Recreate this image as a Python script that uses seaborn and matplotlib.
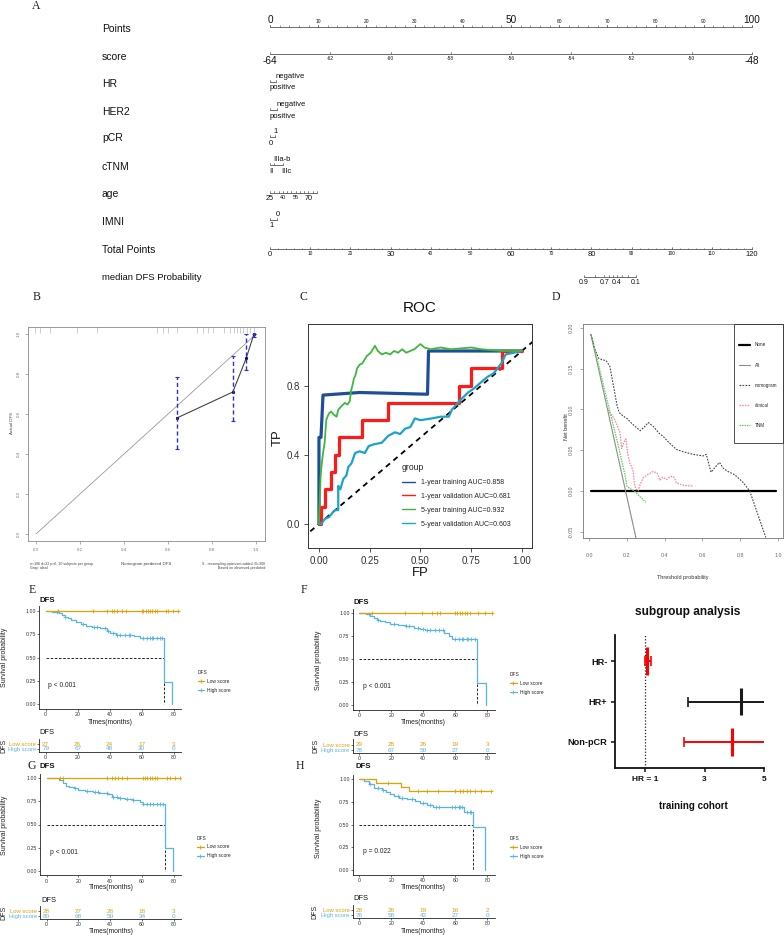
import numpy as np
import pandas as pd
import matplotlib
matplotlib.use("Agg")
import matplotlib.pyplot as plt
from matplotlib.lines import Line2D
from matplotlib.patches import Rectangle
import seaborn as sns

sns.set_theme(style="white")
plt.rcParams['font.family'] = ['Liberation Sans', 'DejaVu Sans']
plt.rcParams['axes.unicode_minus'] = False

# ======================= DATA =======================
# A: nomogram
points_ticks = list(range(0, 101, 10))
points_big = [0, 50, 100]
score_ticks = list(range(-64, -47, 2))
score_big = [-64, -48]
hr_levels = ["positive", "negative"]; hr_pts = [0.0, 1.25]
her2_levels = ["positive", "negative"]; her2_pts = [0.0, 1.55]
pcr_levels = ["0", "1"]; pcr_pts = [0.0, 1.0]
ctnm_levels = ["II", "IIIa-b", "IIIc"]; ctnm_pts = [0.0, 0.8, 2.6]
age_ticks = list(range(25, 81, 5)); age_labeled = [25, 40, 55, 70]; age_big = [25, 70]
age_max_pts = 9.75
imni_levels = ["1", "0"]; imni_pts = [0.0, 1.45]
total_ticks = list(range(0, 121, 10)); total_big = [0, 30, 60, 80, 120]
dfs_prob = [0.9, 0.8, 0.7, 0.6, 0.5, 0.4, 0.3, 0.2, 0.1]
dfs_total = [78.2, 80.8, 83.2, 84.4, 85.4, 86.4, 87.6, 89.1, 91.1]
dfs_labeled = [0.9, 0.7, 0.4, 0.1]

# B: calibration
calib_pred = [0.64, 0.894, 0.955, 0.99]
calib_obs = [0.58, 0.71, 0.88, 1.0]
calib_lo = [0.427, 0.565, 0.82, 0.985]
calib_hi = [0.785, 0.89, 1.0, 1.0]
calib_rug = [-0.005, 0.018, 0.064, 0.185, 0.276, 0.548, 0.579, 0.6, 0.64, 0.73, 0.76, 0.78,
             0.806, 0.852, 0.882, 0.897, 0.912, 0.927, 0.942, 0.958, 0.973, 0.988]

# C: ROC
roc_groups = ["1-year training AUC=0.858", "1-year validation AUC=0.681",
              "5-year training AUC=0.932", "5-year validation AUC=0.603"]
roc_colors = ["#1F4E99", "#FF1A1A", "#3DB83D", "#1BA3C9"]
roc_1y_train_fpr = [0, 0.0, 0.01, 0.02, 0.2, 0.535, 0.54, 0.85, 1.0]
roc_1y_train_tpr = [0, 0.5, 0.5, 0.745, 0.76, 0.75, 1.0, 1.0, 1.0]
roc_1y_val_fpr = [0, 0.01, 0.01, 0.03, 0.03, 0.06, 0.06, 0.08, 0.08, 0.1, 0.1, 0.21, 0.21, 0.34, 0.34,
                  0.69, 0.69, 0.75, 0.75, 0.9, 0.9, 1.0]
roc_1y_val_tpr = [0, 0.0, 0.1, 0.1, 0.2, 0.2, 0.3, 0.3, 0.4, 0.4, 0.5, 0.5, 0.6, 0.6, 0.7,
                  0.7, 0.8, 0.8, 0.9, 0.9, 1.0, 1.0]
roc_5y_train_fpr = [0, 0.003, 0.008, 0.012, 0.02, 0.028, 0.036, 0.042, 0.05, 0.06, 0.075, 0.087, 0.095,
                    0.11, 0.128, 0.14, 0.152, 0.158, 0.165, 0.172, 0.18, 0.188, 0.2, 0.215, 0.235, 0.255,
                    0.276, 0.29, 0.31, 0.33, 0.35, 0.37, 0.39, 0.41, 0.43, 0.45, 0.47, 0.5, 0.52, 0.55,
                    0.6, 0.65, 0.7, 0.75, 0.8, 0.85, 0.9, 1.0]
roc_5y_train_tpr = [0, 0.12, 0.27, 0.33, 0.41, 0.47, 0.6, 0.62, 0.64, 0.65, 0.63, 0.62, 0.66,
                    0.68, 0.70, 0.69, 0.71, 0.77, 0.8, 0.84, 0.86, 0.9, 0.92, 0.93, 0.97, 0.99,
                    1.03, 1.0, 0.98, 0.99, 0.98, 1.0, 0.99, 1.01, 0.99, 1.0, 1.01, 1.04, 1.02, 1.01,
                    1.02, 1.01, 1.015, 1.02, 1.01, 1.005, 1.0, 1.0]
roc_5y_val_fpr = [0, 0.01, 0.03, 0.05, 0.07, 0.08, 0.095, 0.095, 0.105, 0.12, 0.135, 0.145, 0.16, 0.178,
                  0.2, 0.226, 0.245, 0.27, 0.31, 0.342, 0.375, 0.4, 0.424, 0.45, 0.473, 0.5, 0.555, 0.6,
                  0.64, 0.655, 0.67, 0.7, 0.735, 0.76, 0.78, 0.8, 0.83, 0.86, 0.88, 0.9, 0.92, 1.0]
roc_5y_val_tpr = [0, 0.0, 0.03, 0.04, 0.07, 0.08, 0.08, 0.22, 0.2, 0.26, 0.28, 0.33, 0.35, 0.41,
                  0.42, 0.41, 0.45, 0.46, 0.47, 0.51, 0.53, 0.52, 0.55, 0.56, 0.61, 0.6, 0.61, 0.62,
                  0.62, 0.66, 0.68, 0.72, 0.76, 0.78, 0.8, 0.82, 0.85, 0.87, 0.9, 0.93, 0.98, 1.0]

# D: decision curve
dca_none_thr = [0.01, 0.99]; dca_none_nb = [0.0, 0.0]
dca_all_thr = [0.01, 0.26]; dca_all_nb = [0.192, -0.07]
dca_nomo_thr = [0.01, 0.03, 0.05, 0.07, 0.09, 0.11, 0.13, 0.148, 0.16, 0.18, 0.2, 0.23, 0.27, 0.29, 0.313,
                0.34, 0.37, 0.392, 0.42, 0.462, 0.5, 0.55, 0.603, 0.62, 0.645, 0.67, 0.69, 0.71, 0.734,
                0.77, 0.813, 0.85, 0.88, 0.92, 0.935]
dca_nomo_nb = [0.192, 0.175, 0.163, 0.161, 0.16, 0.153, 0.128, 0.105, 0.096, 0.092, 0.089, 0.082, 0.074,
               0.078, 0.084, 0.079, 0.071, 0.067, 0.06, 0.051, 0.048, 0.045, 0.043, 0.045, 0.023, 0.03,
               0.035, 0.028, 0.024, 0.02, 0.011, 0.0, -0.02, -0.047, -0.057]
dca_clin_thr = [0.1, 0.12, 0.137, 0.155, 0.165, 0.172, 0.185, 0.195, 0.205, 0.216, 0.225, 0.233, 0.242,
                0.25, 0.26, 0.27, 0.286, 0.31, 0.339, 0.36, 0.375, 0.39, 0.41, 0.43, 0.45, 0.462, 0.5, 0.55]
dca_clin_nb = [0.1, 0.093, 0.087, 0.077, 0.07, 0.052, 0.06, 0.064, 0.045, 0.034, 0.03, 0.024, 0.006,
               0.002, 0.0, 0.008, 0.016, 0.02, 0.024, 0.022, 0.013, 0.017, 0.014, 0.018, 0.017, 0.01,
               0.007, 0.006]
dca_tnm_thr = [0.01, 0.05, 0.1, 0.15, 0.17, 0.19, 0.2, 0.215, 0.24, 0.27, 0.3]
dca_tnm_nb = [0.192, 0.155, 0.107, 0.06, 0.04, 0.02, 0.006, 0.003, 0.0, -0.007, -0.014]
dca_labels = ["None", "All", "nomogram", "clinical", "TNM"]

# E-H: Kaplan-Meier
E_low_t = [0, 83]; E_low_s = [1.0, 1.0]
E_low_c = [7.9, 29.3, 38.1, 41.2, 42.7, 44.3, 47.5, 50.2, 60.0, 61.0, 62.5, 63.7, 65.2, 66.6, 68.3,
           69.8, 75.0, 76.6, 79.4, 82.9]
E_high_t = [0, 4, 8, 10, 12, 14, 16, 19, 22, 25, 29, 34, 38, 40, 44, 55, 59, 74, 79]
E_high_s = [1.0, 0.99, 0.98, 0.96, 0.94, 0.92, 0.90, 0.88, 0.86, 0.84, 0.83, 0.815, 0.79, 0.765,
            0.745, 0.73, 0.71, 0.235, 0.0]
E_high_c = [6.9, 12.2, 23.5, 30.2, 31.9, 37.1, 39.2, 42.3, 44.3, 46.4, 49.6, 51.8, 52.7, 61.0, 63.1,
            65.2, 66.2, 67.3, 69.4, 71.4, 72.5]
E_low_risk = [27, 26, 24, 17, 3]; E_high_risk = [79, 67, 48, 30, 0]; E_p = "p < 0.001"

F_low_t = [0, 83]; F_low_s = [1.0, 1.0]
F_low_c = [8, 28.5, 38.9, 45.2, 48.3, 50.4, 59.8, 60.8, 62.9, 64, 66, 67, 69.2, 74.4, 78.5, 82.7]
F_high_t = [0, 4, 7, 9, 11, 13, 16, 19, 24, 29, 34, 38, 41, 53, 56, 58, 73.8, 79.2]
F_high_s = [1.0, 0.99, 0.97, 0.95, 0.93, 0.92, 0.90, 0.885, 0.87, 0.86, 0.845, 0.83, 0.815, 0.79,
            0.75, 0.72, 0.236, 0.0]
F_high_c = [6, 12, 22, 29, 31, 37, 40, 42, 44, 47, 50, 52, 60, 62, 64, 65, 67, 68, 70, 72]
F_low_risk = [29, 28, 26, 19, 3]; F_high_risk = [78, 67, 50, 27, 0]; F_p = "p < 0.001"

G_low_t = [0, 84]; G_low_s = [1.0, 1.0]
G_low_c = [8.3, 10.5, 37.7, 40.8, 43.0, 45.0, 47.1, 50.3, 60.3, 61.8, 63.3, 65.0, 66.4, 68.1, 69.6,
           75.5, 77.5, 80.7, 83.8]
G_high_t = [0, 8, 10, 12, 14, 17, 20, 24, 29, 33, 38, 41, 45, 49, 54, 59, 60.5, 74.4, 79.3]
G_high_s = [1.0, 0.98, 0.95, 0.92, 0.91, 0.89, 0.875, 0.865, 0.85, 0.84, 0.825, 0.80, 0.79, 0.775,
            0.76, 0.745, 0.72, 0.245, 0.0]
G_high_c = [17.8, 25.1, 30.4, 32.5, 37.7, 41.9, 44.0, 46.1, 50.3, 54.5, 60.8, 62.9, 65.0, 67.1, 69.2,
            71.3, 73.4]
G_low_risk = [28, 27, 26, 18, 3]; G_high_risk = [80, 68, 50, 34, 0]; G_p = "p < 0.001"

H_low_t = [0, 10.5, 26, 31, 83]; H_low_s = [1.0, 0.96, 0.92, 0.875, 0.875]
H_low_c = [18, 37, 42, 49, 60, 63, 65, 67, 69, 72, 76, 82]
H_high_t = [0, 3, 6, 9, 14, 17, 19, 22, 25, 30, 35, 38, 42, 46, 65.5, 71.3, 78.6]
H_high_s = [1.0, 0.98, 0.95, 0.905, 0.885, 0.865, 0.84, 0.82, 0.795, 0.78, 0.76, 0.74, 0.715, 0.70,
            0.64, 0.472, 0.0]
H_high_c = [7, 12, 15, 24, 27, 33, 40, 44, 48, 50, 58, 60, 62, 63, 64, 67, 69, 70]
H_low_risk = [28, 26, 19, 16, 2]; H_high_risk = [76, 58, 42, 27, 0]; H_p = "p = 0.022"

risk_times = [0, 20, 40, 60, 80]
km_groups = ["Low score", "High score"]
km_colors = ["#E69F00", "#56B4E9"]

# Subgroup forest
sub_labels = ["HR-", "HR+", "Non-pCR"]
sub_hr = [1.08, 4.21, 3.92]
sub_lo = [1.0, 2.43, 2.31]
sub_hi = [1.19, 6.2, 6.0]
sub_colors = ["#FF0000", "#1A1A1A", "#FF0000"]

# ======================= FIGURE =======================
W, H = 784, 936
fig = plt.figure(figsize=(W / 100, H / 100), dpi=100)
fig.patch.set_facecolor("white")


def add_ax(x0, y0, x1, y1):
    return fig.add_axes([x0 / W, 1 - y1 / H, (x1 - x0) / W, (y1 - y0) / H])


def ftext(x, y, s, **kw):
    kw.setdefault("ha", "center"); kw.setdefault("va", "center")
    fig.text(x / W, 1 - y / H, s, **kw)


SERIF = ['Liberation Serif', 'DejaVu Serif']
for lab, (x, y) in zip("ABCDEFGH", [(36, 6), (37, 297), (303, 297), (556, 297),
                                    (32, 590), (304, 590), (32, 766), (300, 766)]):
    ftext(x, y, lab, fontsize=8.5, family=SERIF, color="#222")

# ---------------- A: nomogram ----------------
axA = add_ax(0, 0, W, 292)
PX, X0 = 4.82, 270
axA.set_xlim(-X0 / PX, (W - X0) / PX)
axA.set_ylim(292, 0)
axA.axis("off")
LC = "#555555"

row_names = [("Points", 29), ("score", 57), ("HR", 84), ("HER2", 112), ("pCR", 138), ("cTNM", 167),
             ("age", 194), ("IMNI", 222), ("Total Points", 250)]
for name, y in row_names:
    ftext(102, y, name, ha="left", fontsize=7.5, color="#111")
ftext(102, 278, "median DFS Probability", ha="left", fontsize=6.8, color="#111")


def cont_row(y, pts, labels, bigs, fs_big, fs_small, side, minor=None, tick_len=2.0):
    axA.plot([min(pts), max(pts)], [y, y], color=LC, lw=0.6)
    for p in pts:
        axA.plot([p, p], [y, y - tick_len], color=LC, lw=0.5)
    if minor is not None:
        for p in minor:
            axA.plot([p, p], [y, y - 1.2], color=LC, lw=0.4)
    for p, lab, big in zip(pts, labels, bigs):
        if lab is None:
            continue
        if side == "above":
            axA.text(p, y - 3.2, lab, ha="center", va="baseline", fontsize=fs_big if big else fs_small,
                     color="#111")
        else:
            axA.text(p, y + 2.0, lab, ha="center", va="top", fontsize=fs_big if big else fs_small,
                     color="#111")


def cat_row(y, levels, pts):
    order = np.argsort(pts)
    axA.plot([min(pts), max(pts)], [y, y], color=LC, lw=0.6)
    for k, i in enumerate(order):
        p = pts[i]
        axA.plot([p, p], [y, y - 2], color=LC, lw=0.5)
        if k % 2 == 1:
            axA.text(p - 0.2, y - 3.6, levels[i], ha="left", va="baseline", fontsize=5.5, color="#111")
        else:
            axA.text(p - 0.2, y + 2.8, levels[i], ha="left", va="top", fontsize=5.5, color="#111")


cont_row(26.5, points_ticks, [str(v) for v in points_ticks], [v in points_big for v in points_ticks],
         7.2, 3.5, "above", minor=list(range(0, 101, 2)))
score_pts = [(s - score_ticks[0]) / (score_ticks[-1] - score_ticks[0]) * 100 for s in score_ticks]
cont_row(54.3, score_pts, [str(v) for v in score_ticks], [v in score_big for v in score_ticks],
         7.2, 3.5, "below")
cat_row(81.5, hr_levels, hr_pts)
cat_row(109.7, her2_levels, her2_pts)
cat_row(136.8, pcr_levels, pcr_pts)
cat_row(165.0, ctnm_levels, ctnm_pts)
age_pts = [(a - age_ticks[0]) / (age_ticks[-1] - age_ticks[0]) * age_max_pts for a in age_ticks]
cont_row(192.7, age_pts, [str(a) if a in age_labeled else None for a in age_ticks],
         [a in age_big for a in age_ticks], 5.2, 3.9, "below", tick_len=1.6)
cat_row(219.5, imni_levels, imni_pts)
tot_pts = [t / 120 * 100 for t in total_ticks]
cont_row(249.0, tot_pts, [str(t) for t in total_ticks], [t in total_big for t in total_ticks],
         5.4, 3.4, "below", minor=[t / 120 * 100 for t in range(0, 121, 2)])
dfs_pts = [t / 120 * 100 for t in dfs_total]
cont_row(276.7, dfs_pts, [str(p) if p in dfs_labeled else None for p in dfs_prob],
         [True] * len(dfs_prob), 5.0, 5.0, "below", tick_len=1.6)

# ---------------- B: calibration ----------------
axB = add_ax(28, 327, 265, 541)
axB.set_xlim(-0.036, 1.04); axB.set_ylim(-0.035, 1.035)
sns.lineplot(x=[0, 1], y=[0, 1], color="#9A9A9A", lw=0.6, ax=axB, estimator=None, sort=False)
sns.lineplot(x=calib_pred, y=calib_obs, color="#444444", lw=0.8, ax=axB, estimator=None, sort=False)
axB.plot(calib_pred, calib_obs, "o", ms=1.3, color="#111")
eb = axB.errorbar(calib_pred, calib_obs,
                  yerr=[np.array(calib_obs) - np.array(calib_lo), np.array(calib_hi) - np.array(calib_obs)],
                  fmt="none", ecolor="#2B2BF0", elinewidth=1.0, capsize=1.3, capthick=0.8)
eb[2][0].set_linestyle((0, (3, 2)))
axB.vlines(calib_rug, 0.972, 1.0, transform=axB.get_xaxis_transform(), color="#BBBBBB", lw=0.5)
ticksB = [0, 0.2, 0.4, 0.6, 0.8, 1.0]
axB.set_xticks(ticksB); axB.set_xticklabels([f"{v:.1f}" for v in ticksB], fontsize=3.2, color="#555")
axB.set_yticks(ticksB); axB.set_yticklabels([f"{v:.1f}" for v in ticksB], fontsize=3.2, color="#555",
                                             rotation=90, va="center")
axB.tick_params(direction="out", length=2, width=0.4, colors="#777", pad=3, bottom=True, left=True)
for s in axB.spines.values():
    s.set_color("#8A8A8A"); s.set_linewidth(0.6)
ftext(12, 423, "Actual DFS", rotation=90, fontsize=3.2, color="#444")
ftext(146, 564, "Nomogram predicted DFS", fontsize=3.2, color="#444")
ftext(30, 566, "n=106 d=22 p=6, 30 subjects per group\nGray: ideal", ha="left", fontsize=2.6,
      color="#444", linespacing=1.1)
ftext(265, 566, "X - resampling optimism added, B=300\nBased on observed-predicted", ha="right",
      fontsize=2.6, color="#444", linespacing=1.1, multialignment="right")

# ---------------- C: ROC ----------------
axC = add_ax(308, 324, 532, 548)
axC.set_xlim(-0.054, 1.05); axC.set_ylim(-0.139, 1.156)
sns.lineplot(x=[-0.08, 1.06], y=[-0.08, 1.06], color="black", lw=1.3, ax=axC, estimator=None,
             sort=False, linestyle=(0, (3, 2.5)))
roc_sets = [(roc_1y_train_fpr, roc_1y_train_tpr, 2.3), (roc_1y_val_fpr, roc_1y_val_tpr, 2.3),
            (roc_5y_val_fpr, roc_5y_val_tpr, 1.6), (roc_5y_train_fpr, roc_5y_train_tpr, 1.3)]
roc_idx = [0, 1, 3, 2]
for (fx, fy, lw), gi in zip(roc_sets, roc_idx):
    df = pd.DataFrame({"FP": fx, "TP": fy})
    sns.lineplot(data=df, x="FP", y="TP", color=roc_colors[gi], lw=lw, ax=axC, estimator=None, sort=False)
axC.set_xlabel(""); axC.set_ylabel("")
axC.set_xticks([0, 0.25, 0.5, 0.75, 1.0])
axC.set_xticklabels(["0.00", "0.25", "0.50", "0.75", "1.00"], fontsize=7, color="#333")
axC.set_yticks([0, 0.4, 0.8]); axC.set_yticklabels(["0.0", "0.4", "0.8"], fontsize=7, color="#333")
axC.tick_params(direction="out", length=3, width=0.6, colors="#333", pad=3, bottom=True, left=True)
for s in axC.spines.values():
    s.set_color("#333"); s.set_linewidth(0.7)
ftext(420, 308, "ROC", fontsize=11, color="#111")
ftext(420, 573, "FP", fontsize=9.4, color="#111")
ftext(278, 438, "TP", rotation=90, fontsize=9.4, color="#111")
handles = [Line2D([], [], color=c, lw=1.0) for c in roc_colors]
legC = axC.legend(handles, roc_groups, title="group", loc="upper left", bbox_to_anchor=(402 / W, 1 - 463 / H),
                  bbox_transform=fig.transFigure, frameon=False, fontsize=5.0, title_fontsize=6.2,
                  handlelength=1.9, handletextpad=0.9, labelspacing=1.0, borderpad=0, borderaxespad=0,
                  alignment="left")

# ---------------- D: decision curve ----------------
axD = add_ax(583, 324, 783, 538)
axD.set_xlim(-0.032, 1.026); axD.set_ylim(-0.0577, 0.2049)
dca_sets = [(dca_none_thr, dca_none_nb, "black", 1.6, "-"),
            (dca_all_thr, dca_all_nb, "#8C8C8C", 0.8, "-"),
            (dca_nomo_thr, dca_nomo_nb, "#444444", 0.8, (0, (1.5, 1.2))),
            (dca_clin_thr, dca_clin_nb, "#FF7C9C", 0.9, (0, (1.2, 1.0))),
            (dca_tnm_thr, dca_tnm_nb, "#5FCB5F", 0.9, (0, (1.2, 0.8)))]
for thr, nb, c, lw, ls in dca_sets:
    sns.lineplot(x=thr, y=nb, color=c, lw=lw, linestyle=ls, ax=axD, estimator=None, sort=False)
ticksDx = [0, 0.2, 0.4, 0.6, 0.8, 1.0]
axD.set_xticks(ticksDx); axD.set_xticklabels([f"{v:.1f}" for v in ticksDx], fontsize=3.8, color="#444")
ticksDy = [-0.05, 0.0, 0.05, 0.10, 0.15, 0.20]
axD.set_yticks(ticksDy); axD.set_yticklabels([f"{v:.2f}" for v in ticksDy], fontsize=3.8, color="#444",
                                              rotation=90, va="center")
axD.tick_params(axis="x", direction="out", length=2.5, width=0.4, colors="#666", pad=8, bottom=True)
axD.tick_params(axis="y", direction="out", length=2.5, width=0.4, colors="#666", pad=4, left=True)
for s in axD.spines.values():
    s.set_color("#777"); s.set_linewidth(0.6)
ftext(567, 427, "Net benefit", rotation=90, fontsize=4, color="#333")
ftext(683, 577, "Threshold probability", fontsize=4, color="#333")
hD = [Line2D([], [], color=c, lw=lw, linestyle=ls) for _, _, c, lw, ls in dca_sets]
axD.legend(hD, dca_labels, loc="upper left", bbox_to_anchor=(739 / W, 1 - 342.5 / H),
           bbox_transform=fig.transFigure, frameon=False, fontsize=3.3, handlelength=2.4,
           handletextpad=1.0, labelspacing=3.3, borderpad=0, borderaxespad=0)
fig.patches.append(Rectangle((734 / W, 1 - 443 / H), 49 / W, 119 / H, transform=fig.transFigure,
                             fill=False, lw=0.6, edgecolor="#333"))


# ---------------- E-H: KM curves ----------------
def step_val(t, s, x):
    i = np.searchsorted(t, x, side="right") - 1
    return np.array(s)[np.clip(i, 0, len(s) - 1)]


def km_panel(box, tbox, low_t, low_s, low_c, high_t, high_s, high_c, p, low_risk, high_risk,
             title_xy, ylab_xy, xlab_xy, p_xy, leg_xy, ttitle_xy, tylab_xy, txlab_xy=None):
    ax = add_ax(*box)
    ax.set_xlim(-4, 84.5); ax.set_ylim(-0.05, 1.05)
    t_med = high_t[int(np.argmax(np.array(high_s) <= 0.5))]
    sns.lineplot(x=[0, t_med], y=[0.5, 0.5], color="black", lw=0.6, linestyle=(0, (3, 2)), ax=ax,
                 estimator=None, sort=False)
    sns.lineplot(x=[t_med, t_med], y=[0.5, 0.0], color="black", lw=0.6, linestyle=(0, (3, 2)), ax=ax,
                 estimator=None, sort=False)
    for t, s, cns, col in [(high_t, high_s, high_c, km_colors[1]), (low_t, low_s, low_c, km_colors[0])]:
        sns.lineplot(x=t, y=s, color=col, lw=0.9, drawstyle="steps-post", ax=ax, estimator=None, sort=False)
        ax.plot(cns, step_val(t, s, cns), "+", color=col, ms=3.2, mew=0.6)
    ax.set_xlabel(""); ax.set_ylabel("")
    ax.set_xticks(risk_times); ax.set_xticklabels([str(v) for v in risk_times], fontsize=3.8, color="#333")
    ax.set_yticks([0, 0.25, 0.5, 0.75, 1.0])
    ax.set_yticklabels(["0.00", "0.25", "0.50", "0.75", "1.00"], fontsize=3.8, color="#333")
    ax.tick_params(direction="out", length=1.6, width=0.5, colors="#333", pad=0.8, bottom=True, left=True)
    for side in ["top", "right"]:
        ax.spines[side].set_visible(False)
    for side in ["left", "bottom"]:
        ax.spines[side].set_color("#222"); ax.spines[side].set_linewidth(0.6)
    ftext(*title_xy, "DFS", ha="left", fontsize=5.6, fontweight="bold", color="#111")
    ftext(*ylab_xy, "Survival probability", rotation=90, fontsize=5.0, color="#222")
    ftext(xlab_xy[0], xlab_xy[1] + 1.2, "Times(months)", fontsize=4.9, color="#222")
    ftext(*p_xy, p, ha="left", fontsize=4.8, color="#222")
    hk = [Line2D([], [], color=c, lw=0.9, marker="+", ms=3, mew=0.6) for c in km_colors]
    ax.legend(hk, km_groups, title="DFS", loc="upper left",
              bbox_to_anchor=(leg_xy[0] / W, 1 - leg_xy[1] / H), bbox_transform=fig.transFigure,
              frameon=False, fontsize=3.5, title_fontsize=3.5, handlelength=1.4, handletextpad=0.6,
              labelspacing=0.8, borderpad=0, borderaxespad=0, alignment="left")
    # risk table
    axt = add_ax(*tbox)
    axt.set_xlim(-4, 84.5); axt.set_ylim(-0.6, 2.0)
    for row, (vals, col) in enumerate([(high_risk, km_colors[1]), (low_risk, km_colors[0])]):
        for t, v in zip(risk_times, vals):
            axt.text(t, row, str(v), color=col, ha="center", va="center", fontsize=4.6)
    axt.set_xticks(risk_times); axt.set_xticklabels([str(v) for v in risk_times], fontsize=3.8, color="#333")
    axt.set_yticks([1, 0]); axt.set_yticklabels(km_groups, fontsize=4.2)
    axt.tick_params(direction="out", length=1.5, width=0.5, colors="#333", pad=0.8, bottom=True, left=True)
    for tl, c in zip(axt.get_yticklabels(), km_colors):
        tl.set_color(c)
    for side in ["top", "right"]:
        axt.spines[side].set_visible(False)
    for side in ["left", "bottom"]:
        axt.spines[side].set_color("#222"); axt.spines[side].set_linewidth(0.6)
    ftext(*ttitle_xy, "DFS", ha="left", fontsize=5.4, color="#111")
    ftext(*tylab_xy, "DFS", rotation=90, fontsize=5.0, color="#222")
    if txlab_xy is not None:
        ftext(txlab_xy[0], txlab_xy[1] + 0.8, "Times(months)", fontsize=4.9, color="#222")


km_panel((39.3, 606.4, 180.9, 708.7), (39.3, 739, 180.9, 752),
         E_low_t, E_low_s, E_low_c, E_high_t, E_high_s, E_high_c, E_p, E_low_risk, E_high_risk,
         (39, 600), (5, 657), (110, 721), (48, 685.7), (197.5, 670), (39, 733), (4, 746))
km_panel((352.9, 608.7, 494.5, 709.6), (352.9, 739.3, 494.5, 753.3),
         F_low_t, F_low_s, F_low_c, F_high_t, F_high_s, F_high_c, F_p, F_low_risk, F_high_risk,
         (353, 602), (318, 660), (423, 721.7), (363, 686.7), (510, 672), (353, 734), (316, 746))
km_panel((40.3, 773.7, 181.0, 875.3), (40.3, 906, 181.0, 919.3),
         G_low_t, G_low_s, G_low_c, G_high_t, G_high_s, G_high_c, G_p, G_low_risk, G_high_risk,
         (40, 766), (4.7, 825), (111, 886.7), (50, 852.3), (197, 835.5), (41, 900), (4, 912.7),
         (111, 930.7))
km_panel((352.9, 774.8, 494.5, 874.5), (352.9, 905, 494.5, 918.3),
         H_low_t, H_low_s, H_low_c, H_high_t, H_high_s, H_high_c, H_p, H_low_risk, H_high_risk,
         (355, 767), (318, 828), (423, 886), (362.7, 851.7), (510, 836), (353, 899), (315, 912),
         (423, 930.7))

# ---------------- Subgroup forest ----------------
axS = add_ax(615, 635, 764.3, 768)
axS.set_xlim(0, 5); axS.set_ylim(2.642, -0.642)
axS.axvline(1, color="#222", lw=0.9, linestyle=(0, (1, 1.5)))
yy = np.arange(len(sub_labels))
for i in range(len(sub_labels)):
    axS.errorbar([sub_hr[i]], [yy[i]], xerr=[[sub_hr[i] - sub_lo[i]], [sub_hi[i] - sub_hr[i]]],
                 fmt="none", ecolor=sub_colors[i], elinewidth=1.4, capsize=3.6, capthick=1.2)
sns.scatterplot(x=sub_hr, y=yy, marker="|", s=380, color=None, hue=sub_labels,
                palette=dict(zip(sub_labels, sub_colors)), linewidth=2.2, ax=axS, legend=False)
axS.set_yticks(yy); axS.set_yticklabels(sub_labels, fontsize=6.6, fontweight="bold", color="#111")
axS.set_xticks([1, 3, 5]); axS.set_xticklabels(["HR = 1", "3", "5"], fontsize=6.0, fontweight="bold",
                                               color="#111")
axS.tick_params(direction="out", length=3, width=1.1, colors="#111", pad=2.5, bottom=True, left=True)
for side in ["top", "right"]:
    axS.spines[side].set_visible(False)
for side in ["left", "bottom"]:
    axS.spines[side].set_color("#111"); axS.spines[side].set_linewidth(1.3)
ftext(688, 612, "subgroup analysis", fontsize=8.6, fontweight="bold", color="#111")
ftext(693, 806, "training cohort", fontsize=7.0, fontweight="bold", color="#111")

fig.savefig("out.png", dpi=100, facecolor="white")
